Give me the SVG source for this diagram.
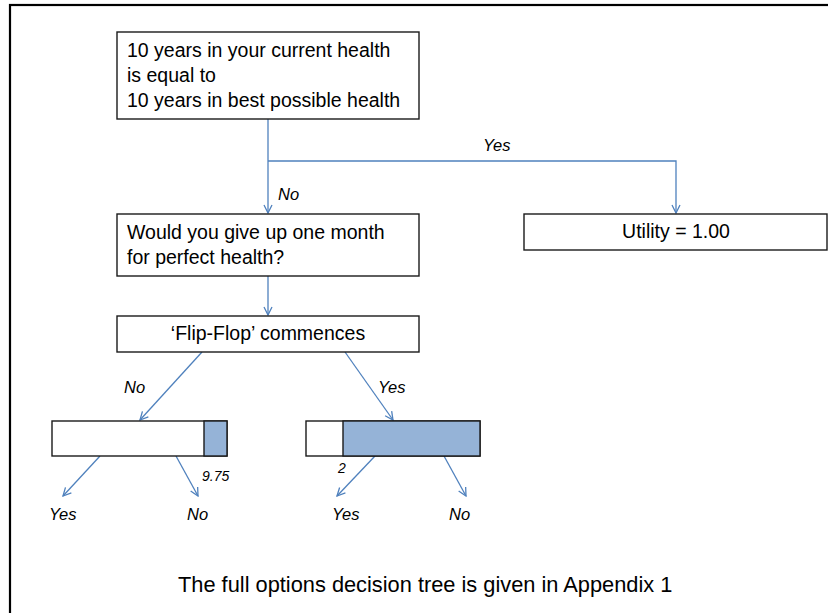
<svg xmlns="http://www.w3.org/2000/svg" width="828" height="613" viewBox="0 0 828 613">
<defs>
<style>
.box{fill:#fff;stroke:#1a1a1a;stroke-width:1.4}
.bar{fill:#95B3D7;stroke:#1a1a1a;stroke-width:1.4}
.t{font-family:"Liberation Sans",Arial,sans-serif;font-size:19.5px;fill:#000}
.lab{font-family:"Liberation Sans",Arial,sans-serif;font-size:16.5px;font-style:italic;fill:#000}
.sm{font-family:"Liberation Sans",Arial,sans-serif;font-size:14px;font-style:italic;fill:#000}
.c{fill:none;stroke:#4F81BD;stroke-width:1.3}
</style>
<marker id="ah" viewBox="0 0 10 10" refX="9" refY="5" markerWidth="10" markerHeight="10" markerUnits="userSpaceOnUse" orient="auto">
<path d="M1,1 L9,5 L1,9" fill="none" stroke="#4F81BD" stroke-width="1.3"/>
</marker>
</defs>
<rect width="828" height="613" fill="#fff"/>
<rect x="10" y="5" width="830" height="620" fill="none" stroke="#000" stroke-width="2.2"/>

<g id="connectors">
<line class="c" x1="268" y1="119" x2="268" y2="213" marker-end="url(#ah)"/>
<polyline class="c" points="268,161 676,161 676,213" marker-end="url(#ah)"/>
<line class="c" x1="268" y1="276" x2="268" y2="315" marker-end="url(#ah)"/>
<line class="c" x1="202" y1="352" x2="140" y2="420" marker-end="url(#ah)"/>
<line class="c" x1="345" y1="352" x2="393" y2="420" marker-end="url(#ah)"/>
<line class="c" x1="100" y1="456" x2="63" y2="496" marker-end="url(#ah)"/>
<line class="c" x1="176" y1="456" x2="198" y2="496" marker-end="url(#ah)"/>
<line class="c" x1="375" y1="456" x2="337" y2="496" marker-end="url(#ah)"/>
<line class="c" x1="444" y1="456" x2="466" y2="496" marker-end="url(#ah)"/>
<text class="lab" x="483" y="151">Yes</text>
<text class="lab" x="278" y="200">No</text>
<text class="lab" x="124" y="393">No</text>
<text class="lab" x="378" y="393">Yes</text>
<text class="lab" x="49" y="520">Yes</text>
<text class="lab" x="187" y="520">No</text>
<text class="lab" x="332" y="520">Yes</text>
<text class="lab" x="449" y="520">No</text>
</g>

<g id="n1">
<rect class="box" x="117" y="32" width="302" height="87"/>
<text class="t" x="127" y="57">10 years in your current health</text>
<text class="t" x="127" y="82">is equal to</text>
<text class="t" x="127" y="107">10 years in best possible health</text>
</g>

<g id="n2">
<rect class="box" x="117" y="214" width="302" height="62"/>
<text class="t" x="127" y="239">Would you give up one month</text>
<text class="t" x="127" y="264">for perfect health?</text>
</g>

<g id="n3">
<rect class="box" x="524" y="214" width="303" height="36"/>
<text class="t" x="676" y="238" text-anchor="middle">Utility = 1.00</text>
</g>

<g id="n4">
<rect class="box" x="117" y="316" width="302" height="36"/>
<text class="t" x="268" y="340" text-anchor="middle">‘Flip-Flop’ commences</text>
</g>

<g id="n5">
<rect class="box" x="52" y="421" width="175" height="35"/>
<rect class="bar" x="204" y="421" width="23" height="35"/>
<text class="sm" x="202" y="481">9.75</text>
</g>

<g id="n6">
<rect class="box" x="306" y="421" width="174" height="35"/>
<rect class="bar" x="343" y="421" width="137" height="35"/>
<text class="sm" x="338" y="473">2</text>
</g>

<text class="t" x="178" y="592" style="font-size:21.8px">The full options decision tree is given in Appendix 1</text>
</svg>
